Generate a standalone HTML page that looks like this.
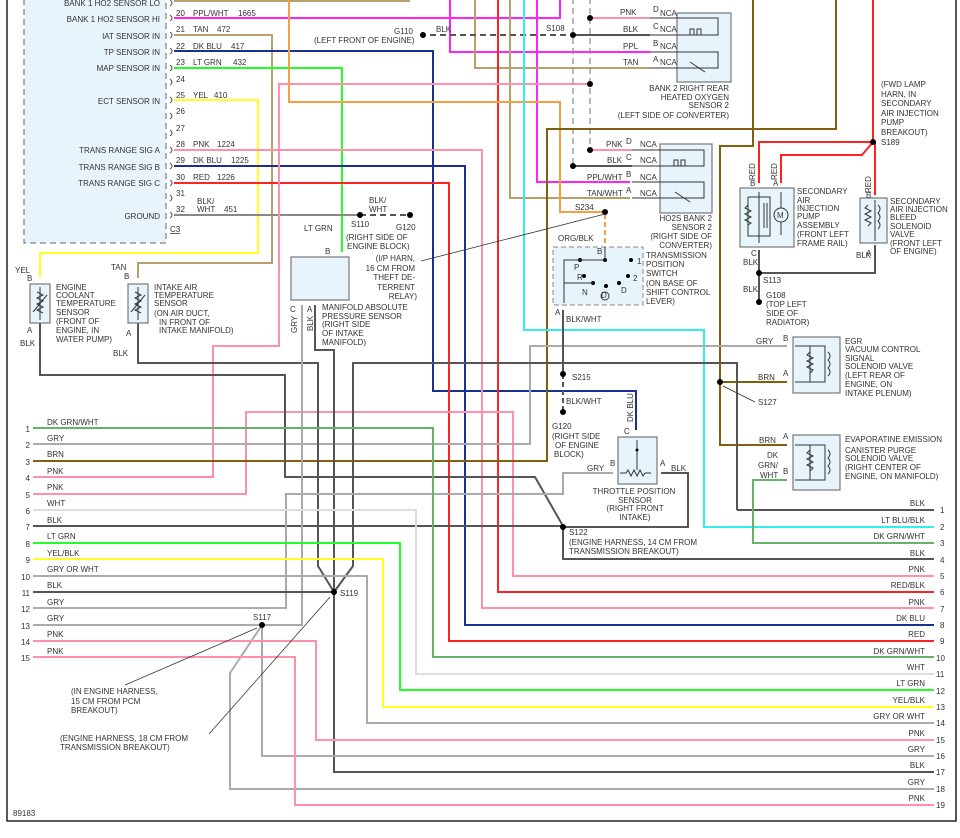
<!DOCTYPE html>
<html><head><meta charset="utf-8"><style>
html,body{margin:0;padding:0;background:#fff;}
svg{display:block;font-family:"Liberation Sans",sans-serif;}
text{font-size:8px;fill:#333;}
.w{fill:none;stroke-width:2;}
.b{fill:#e8f4fc;stroke:#777;stroke-width:1.2;}
</style></head><body>
<svg width="960" height="838" viewBox="0 0 960 838" xmlns="http://www.w3.org/2000/svg">
<rect x="0" y="0" width="960" height="838" fill="#fff"/>
<!-- border -->
<polyline points="7,0 7,821 956,821 956,0" fill="none" stroke="#222" stroke-width="1.5"/>
<!-- PCM box -->
<rect x="24" y="-5" width="142" height="248" fill="#e8f4fc" stroke="#666" stroke-dasharray="6,4" stroke-width="1"/>
<g text-anchor="end">
<text x="160" y="6">BANK 1 HO2 SENSOR LO</text>
<text x="160" y="22">BANK 1 HO2 SENSOR HI</text>
<text x="160" y="39">IAT SENSOR IN</text>
<text x="160" y="55">TP SENSOR IN</text>
<text x="160" y="71">MAP SENSOR IN</text>
<text x="160" y="104">ECT SENSOR IN</text>
<text x="160" y="153">TRANS RANGE SIG A</text>
<text x="160" y="170">TRANS RANGE SIG B</text>
<text x="160" y="186">TRANS RANGE SIG C</text>
<text x="160" y="219">GROUND</text>
</g>
<text x="170" y="232" text-decoration="underline">C3</text>
<g>
<text x="176" y="16">20</text><text x="193" y="16">PPL/WHT</text><text x="238" y="16">1665</text>
<text x="176" y="32">21</text><text x="193" y="32">TAN</text><text x="217" y="32">472</text>
<text x="176" y="49">22</text><text x="193" y="49">DK BLU</text><text x="231" y="49">417</text>
<text x="176" y="65">23</text><text x="193" y="65">LT GRN</text><text x="233" y="65">432</text>
<text x="176" y="82">24</text>
<text x="176" y="98">25</text><text x="193" y="98">YEL</text><text x="214" y="98">410</text>
<text x="176" y="114">26</text>
<text x="176" y="131">27</text>
<text x="176" y="147">28</text><text x="193" y="147">PNK</text><text x="217" y="147">1224</text>
<text x="176" y="163">29</text><text x="193" y="163">DK BLU</text><text x="231" y="163">1225</text>
<text x="176" y="180">30</text><text x="193" y="180">RED</text><text x="217" y="180">1226</text>
<text x="176" y="196">31</text>
<text x="176" y="212">32</text><text x="197" y="204">BLK/</text><text x="197" y="212">WHT</text><text x="224" y="212">451</text>
</g>
<g fill="none" stroke="#555" stroke-width="1">
<path d="M170,0 q4,3 0,6"/><path d="M170,15 q4,3 0,6"/><path d="M170,32 q4,3 0,6"/><path d="M170,48 q4,3 0,6"/><path d="M170,65 q4,3 0,6"/><path d="M170,79 q4,3 0,6"/><path d="M170,97 q4,3 0,6"/><path d="M170,113 q4,3 0,6"/><path d="M170,130 q4,3 0,6"/><path d="M170,147 q4,3 0,6"/><path d="M170,163 q4,3 0,6"/><path d="M170,180 q4,3 0,6"/><path d="M170,195 q4,3 0,6"/><path d="M170,212 q4,3 0,6"/>
</g>

<!-- WIRES -->
<polyline class="w" stroke="#b8a068" points="174,1 409,1 409,-2"/>
<polyline class="w" stroke="#ff22ff" points="174,18 560,18 560,-2"/>
<polyline class="w" stroke="#ff22ff" points="450,-2 450,52 650,52"/>
<polyline class="w" stroke="#ff22ff" points="537,-2 537,182 630,182"/>
<polyline class="w" stroke="#b8a068" points="475,-2 475,68 650,68"/>
<polyline class="w" stroke="#b8a068" points="510,-2 510,198 630,198"/>
<polyline class="w" stroke="#b8a068" points="174,35 272,35 272,263 138,263 138,278"/>
<polyline class="w" stroke="#1a2f8f" points="174,51 433,51 433,391 636,391 636,430"/>
<polyline class="w" stroke="#22ff22" points="174,68 342,68 342,252"/>
<polyline class="w" stroke="#ffff22" points="174,100 258,100 258,253 40,253 40,278"/>
<polyline class="w" stroke="#ff90a8" points="174,150 482,150 482,608 934,608"/>
<polyline class="w" stroke="#1a2f8f" points="174,166 465,166 465,625 934,625"/>
<polyline class="w" stroke="#ff2222" points="174,183 449,183 449,641 934,641"/>
<polyline class="w" stroke="#ff2222" points="498,-2 498,592 934,592"/>
<line x1="174" y1="215" x2="360" y2="215" stroke="#888" stroke-width="2"/>
<line x1="360" y1="215" x2="410" y2="215" stroke="#555" stroke-width="2" stroke-dasharray="6,4"/>
<polyline class="w" stroke="#f5a040" points="289,-2 289,102 560,102 560,212 605,212"/>
<line x1="605" y1="214" x2="605" y2="245" stroke="#f5a040" stroke-width="2" stroke-dasharray="5,3"/>
<polyline class="w" stroke="#ff90a8" points="590,84 279,84 279,346 213,346 213,477 33,477"/>
<polyline class="w" stroke="#ff90a8" points="33,494 246,494 246,412 513,412 513,576 934,576"/>
<!-- dashed verticals -->
<line x1="573" y1="-2" x2="573" y2="166" stroke="#888" stroke-width="1.2" stroke-dasharray="6,4"/>
<line x1="590" y1="-2" x2="590" y2="150" stroke="#888" stroke-width="1.2" stroke-dasharray="6,4"/>
<line x1="430" y1="35" x2="573" y2="35" stroke="#555" stroke-width="2" stroke-dasharray="6,4"/>
<line x1="590" y1="18" x2="650" y2="18" stroke="#ff90a8" stroke-width="2"/>
<line x1="573" y1="35" x2="650" y2="35" stroke="#555" stroke-width="2"/>
<line x1="590" y1="150" x2="632" y2="150" stroke="#ff90a8" stroke-width="2"/>
<line x1="573" y1="166" x2="632" y2="166" stroke="#555" stroke-width="2"/>
<!-- brown -->
<polyline class="w" stroke="#806010" points="836,-2 836,129 547,129 547,461 33,461"/>
<polyline class="w" stroke="#806010" points="753,-2 753,146 720,146 720,445 787,445"/>
<line x1="720" y1="382" x2="787" y2="382" stroke="#806010" stroke-width="2"/>
<!-- cyan -->
<polyline class="w" stroke="#33eeee" points="524,-2 524,330 704,330 704,527 934,527"/>
<!-- grays -->
<polyline class="w" stroke="#aaa" points="787,346 530,346 530,444 33,444"/>
<polyline class="w" stroke="#555" points="33,526 563,526 563,559 934,559"/>
<polyline class="w" stroke="#555" points="40,310 40,375 285,375 285,477 535,477 563,526"/>
<polyline class="w" stroke="#555" points="138,310 138,363 318,363 318,566 334,592"/>
<polyline class="w" stroke="#555" points="315,305 315,350 334,350 334,772 934,772"/>
<polyline class="w" stroke="#555" points="737,510 737,363 353,363 353,566 334,592"/>
<line x1="737" y1="510" x2="934" y2="510" stroke="#555" stroke-width="2"/>
<polyline class="w" stroke="#aaa" points="302,305 302,625 262,625"/>
<polyline class="w" stroke="#aaa" points="33,608 286,608 286,494 563,494 563,473 613,473"/>
<polyline class="w" stroke="#555" points="661,473 688,473 688,527 563,527"/>
<polyline class="w" stroke="#66b266" points="787,480 753,480 753,543 934,543"/>
<line x1="563" y1="310" x2="563" y2="374" stroke="#555" stroke-width="2"/>
<line x1="563" y1="374" x2="563" y2="410" stroke="#555" stroke-width="2" stroke-dasharray="5,3"/>
<!-- left rows to right -->
<polyline class="w" stroke="#66b266" points="33,428 433,428 433,657 934,657"/>
<polyline class="w" stroke="#ddd" points="33,510 416,510 416,674 934,674"/>
<polyline class="w" stroke="#22ff22" points="33,543 400,543 400,690 934,690"/>
<polyline class="w" stroke="#ffff22" points="33,559 383,559 383,707 934,707"/>
<polyline class="w" stroke="#aaa" points="33,576 367,576 367,723 934,723"/>
<polyline class="w" stroke="#555" points="33,592 334,592"/>
<polyline class="w" stroke="#aaa" points="33,625 262,625 262,756 934,756"/>
<polyline class="w" stroke="#aaa" points="262,625 230,673 230,789 934,789"/>
<polyline class="w" stroke="#ff90a8" points="33,641 316,641 316,740 934,740"/>
<polyline class="w" stroke="#ff90a8" points="33,657 295,657 295,805 934,805"/>
<!-- red right -->
<polyline class="w" stroke="#ff2222" points="873,-2 873,142 759,142 759,183"/>
<polyline class="w" stroke="#ff2222" points="781,183 781,155 862,155 873,142 875,142 875,195"/>
<polyline class="w" stroke="#555" points="759,250 759,273 875,273 875,245"/>
<line x1="759" y1="273" x2="759" y2="300" stroke="#555" stroke-width="2"/>

<!-- dots -->
<g fill="#000">
<circle cx="590" cy="18" r="3"/><circle cx="573" cy="35" r="3"/><circle cx="590" cy="84" r="3"/><circle cx="590" cy="150" r="3"/><circle cx="573" cy="166" r="3"/>
<circle cx="605" cy="212" r="3"/><circle cx="360" cy="215" r="3"/><circle cx="410" cy="215" r="3"/><circle cx="423" cy="35" r="3"/>
<circle cx="873" cy="142" r="3"/><circle cx="759" cy="273" r="3"/><circle cx="759" cy="302" r="3"/>
<circle cx="563" cy="374" r="3"/><circle cx="563" cy="412" r="3"/><circle cx="720" cy="382" r="3"/>
<circle cx="563" cy="527" r="3"/><circle cx="334" cy="592" r="3"/><circle cx="262" cy="625" r="3"/>
</g>

<!-- components -->
<rect class="b" x="677" y="13" width="54" height="69"/>
<rect class="b" x="660" y="144" width="52" height="69"/>
<g fill="none" stroke="#333" stroke-width="1">
<polyline points="650,18 718,18 718,35 650,35"/><polyline points="650,52 718,52 718,68 650,68"/>
<polyline points="632,150 704,150 704,166 632,166"/><polyline points="632,182 704,182 704,198 632,198"/>
<path d="M690,35 v-6 h4 v6 h3 v-6 h4 v6"/><path d="M674,166 v-6 h4 v6 h3 v-6 h4 v6"/>
<line x1="690" y1="62" x2="705" y2="72"/><line x1="675" y1="192" x2="690" y2="202"/>
</g>
<g>
<text x="620" y="15">PNK</text><text x="653" y="12" font-size="7">D</text><text x="660" y="16">NCA</text>
<text x="623" y="32">BLK</text><text x="653" y="29" font-size="7">C</text><text x="660" y="32">NCA</text>
<text x="623" y="49">PPL</text><text x="653" y="46" font-size="7">B</text><text x="660" y="49">NCA</text>
<text x="623" y="65">TAN</text><text x="653" y="62" font-size="7">A</text><text x="660" y="65">NCA</text>
<text x="606" y="147">PNK</text><text x="626" y="144" font-size="7">D</text><text x="640" y="147">NCA</text>
<text x="607" y="163">BLK</text><text x="626" y="160" font-size="7">C</text><text x="640" y="163">NCA</text>
<text x="587" y="180">PPL/WHT</text><text x="626" y="177" font-size="7">B</text><text x="640" y="180">NCA</text>
<text x="587" y="196">TAN/WHT</text><text x="626" y="193" font-size="7">A</text><text x="640" y="196">NCA</text>
</g>
<g text-anchor="end">
<text x="729" y="91">BANK 2 RIGHT REAR</text><text x="729" y="100">HEATED OXYGEN</text><text x="729" y="108">SENSOR 2</text><text x="729" y="118">(LEFT SIDE OF CONVERTER)</text>
<text x="712" y="221">HO2S BANK 2</text><text x="712" y="230">SENSOR 2</text><text x="712" y="239">(RIGHT SIDE OF</text><text x="712" y="248">CONVERTER)</text>
</g>
<text x="546" y="31">S108</text><text x="394" y="34">G110</text><text x="436" y="32">BLK</text>
<text x="314" y="43">(LEFT FRONT OF ENGINE)</text>
<text x="575" y="210">S234</text>
<text x="558" y="241">ORG/BLK</text>

<!-- TPS switch -->
<rect x="553" y="247" width="90" height="58" fill="#e8f4fc" stroke="#888" stroke-dasharray="5,3"/>
<g fill="#000"><circle cx="605" cy="260" r="2"/><circle cx="580" cy="260" r="2"/><circle cx="584" cy="276" r="2"/><circle cx="593" cy="283" r="2"/><circle cx="606" cy="286" r="2"/><circle cx="619" cy="283" r="2"/><circle cx="628" cy="276" r="2"/><circle cx="631" cy="260" r="2"/></g>
<polyline points="605,247 605,260 564,260 564,303" fill="none" stroke="#333" stroke-width="1"/>
<line x1="564" y1="283" x2="593" y2="283" stroke="#333"/>
<circle cx="605" cy="296" r="4" fill="none" stroke="#333"/>
<text x="601" y="298" font-size="6">D</text>
<text x="574" y="270">P</text><text x="577" y="280">R</text><text x="582" y="295">N</text><text x="621" y="293">D</text><text x="633" y="281">2</text><text x="637" y="264">1</text>
<text x="597" y="254">B</text><text x="555" y="315">A</text>
<text x="566" y="322">BLK/WHT</text>
<g><text x="646" y="258">TRANSMISSION</text><text x="646" y="267">POSITION</text><text x="646" y="276">SWITCH</text><text x="646" y="286">(ON BASE OF</text><text x="646" y="295">SHIFT CONTROL</text><text x="646" y="304">LEVER)</text></g>

<!-- secondary air -->
<rect class="b" x="740" y="188" width="54" height="59"/>
<g fill="none" stroke="#333"><polyline points="759,192 759,243"/><polyline points="748,197 770,197 770,236 748,236 748,197"/><circle cx="781" cy="215" r="7"/><line x1="781" y1="192" x2="781" y2="208"/><line x1="781" y1="222" x2="781" y2="235"/><path d="M748,205 l-3,3 l6,3 l-6,3 l6,3 l-6,3 l6,3 l-3,2"/><line x1="764" y1="203" x2="764" y2="228"/><line x1="767" y1="203" x2="767" y2="228"/></g>
<text x="777" y="218" font-size="7">M</text>
<text x="750" y="186">B</text><text x="773" y="186">A</text><text x="751" y="256">C</text><text x="743" y="265">BLK</text><text x="743" y="292">BLK</text>
<text x="763" y="283">S113</text><text x="766" y="298">G108</text><text x="766" y="307">(TOP LEFT</text><text x="766" y="316">SIDE OF</text><text x="766" y="325">RADIATOR)</text>
<text transform="translate(755,180) rotate(-90)">RED</text><text transform="translate(777,180) rotate(-90)">RED</text><text transform="translate(871,193) rotate(-90)">RED</text>
<g><text x="797" y="194">SECONDARY</text><text x="797" y="203">AIR</text><text x="797" y="211">INJECTION</text><text x="797" y="219">PUMP</text><text x="797" y="228">ASSEMBLY</text><text x="797" y="237">(FRONT LEFT</text><text x="797" y="246">FRAME RAIL)</text></g>
<rect class="b" x="860" y="198" width="27" height="45"/>
<g fill="none" stroke="#333"><line x1="875" y1="200" x2="875" y2="241"/><path d="M868,205 l-3,3 l6,3 l-6,3 l6,3 l-6,3 l6,3 l-3,3"/><path d="M878,205 q4,4 0,8 q4,4 0,8 q4,4 0,8"/></g>
<text x="866" y="198">B</text><text x="866" y="256">A</text><text x="856" y="258">BLK</text>
<g><text x="890" y="204">SECONDARY</text><text x="890" y="212">AIR INJECTION</text><text x="890" y="220">BLEED</text><text x="890" y="229">SOLENOID</text><text x="890" y="237">VALVE</text><text x="890" y="246">(FRONT LEFT</text><text x="890" y="254">OF ENGINE)</text></g>
<g><text x="881" y="87">(FWD LAMP</text><text x="881" y="97">HARN, IN</text><text x="881" y="106">SECONDARY</text><text x="881" y="116">AIR INJECTION</text><text x="881" y="125">PUMP</text><text x="881" y="135">BREAKOUT)</text><text x="881" y="145">S189</text></g>

<!-- EGR & EVAP -->
<rect class="b" x="793" y="337" width="47" height="56"/>
<rect class="b" x="793" y="435" width="47" height="55"/>
<g fill="none" stroke="#333"><polyline points="795,346 810,346 810,382 795,382"/><polyline points="810,346 825,346 825,382 810,382"/><path d="M810,352 l-3,3 l6,3 l-6,3 l6,3 l-6,3 l6,3 l-3,3"/><path d="M828,352 q4,4 0,8 q4,4 0,8 q4,4 0,8"/>
<polyline points="795,445 810,445 810,480 795,480"/><polyline points="810,445 825,445 825,480 810,480"/><path d="M810,450 l-3,3 l6,3 l-6,3 l6,3 l-6,3 l6,3 l-3,3"/><path d="M828,450 q4,4 0,8 q4,4 0,8 q4,4 0,8"/></g>
<text x="756" y="344">GRY</text><text x="783" y="341" font-size="7">B</text>
<text x="758" y="380">BRN</text><text x="783" y="376" font-size="7">A</text>
<text x="759" y="443">BRN</text><text x="783" y="439" font-size="7">A</text>
<text x="767" y="458">DK</text><text x="758" y="468">GRN/</text><text x="760" y="478">WHT</text><text x="783" y="474" font-size="7">B</text>
<text x="758" y="405">S127</text><line x1="723" y1="386" x2="755" y2="402" stroke="#333" stroke-width="0.8"/>
<g><text x="845" y="344">EGR</text><text x="845" y="352">VACUUM CONTROL</text><text x="845" y="361">SIGNAL</text><text x="845" y="369">SOLENOID VALVE</text><text x="845" y="378">(LEFT REAR OF</text><text x="845" y="387">ENGINE, ON</text><text x="845" y="396">INTAKE PLENUM)</text></g>
<g><text x="845" y="442">EVAPORATINE EMISSION</text><text x="845" y="453">CANISTER PURGE</text><text x="845" y="461">SOLENOID VALVE</text><text x="845" y="470">(RIGHT CENTER OF</text><text x="845" y="479">ENGINE, ON MANIFOLD)</text></g>

<!-- TPS -->
<rect class="b" x="618" y="437" width="39" height="47"/>
<g fill="none" stroke="#333"><line x1="637" y1="440" x2="637" y2="470"/><path d="M620,473 h6 l2,-3 l3,6 l3,-6 l3,6 l3,-6 l3,6 l2,-3 h6"/></g>
<circle cx="637" cy="450" r="1.5" fill="#000"/>
<text x="624" y="434">C</text><text x="610" y="466">B</text><text x="660" y="466">A</text>
<text x="587" y="471">GRY</text><text x="671" y="471">BLK</text>
<text transform="translate(633,422) rotate(-90)">DK BLU</text>
<g text-anchor="middle"><text x="634" y="494">THROTTLE POSITION</text><text x="635" y="503">SENSOR</text><text x="635" y="511">(RIGHT FRONT</text><text x="635" y="520">INTAKE)</text></g>
<text x="572" y="380">S215</text><text x="566" y="404">BLK/WHT</text>
<text x="552" y="429">G120</text><text x="552" y="439">(RIGHT SIDE</text><text x="555" y="448">OF ENGINE</text><text x="554" y="457">BLOCK)</text>
<text x="569" y="535">S122</text><text x="569" y="545">(ENGINE HARNESS, 14 CM FROM</text><text x="569" y="554">TRANSMISSION BREAKOUT)</text>

<!-- MAP -->
<rect class="b" x="291" y="257" width="58" height="43"/>
<text x="325" y="254">B</text><text x="290" y="312">C</text><text x="307" y="312">A</text>
<text x="304" y="231">LT GRN</text>
<text transform="translate(297,333) rotate(-90)">GRY</text><text transform="translate(313,331) rotate(-90)">BLK</text>
<g><text x="322" y="310">MANIFOLD ABSOLUTE</text><text x="322" y="319">PRESSURE SENSOR</text><text x="322" y="327">(RIGHT SIDE</text><text x="322" y="336">OF INTAKE</text><text x="322" y="345">MANIFOLD)</text></g>
<text x="369" y="203">BLK/</text><text x="369" y="212">WHT</text><text x="351" y="227">S110</text><text x="396" y="230">G120</text>
<text x="346" y="240">(RIGHT SIDE OF</text><text x="347" y="249">ENGINE BLOCK)</text>
<g text-anchor="end"><text x="415" y="261">(I/P HARN,</text><text x="415" y="271">16 CM FROM</text><text x="415" y="280">THEFT DE-</text><text x="415" y="290">TERRENT</text><text x="417" y="299">RELAY)</text></g>
<line x1="421" y1="261" x2="605" y2="214" stroke="#333" stroke-width="0.8"/>

<!-- ECT / IAT -->
<rect class="b" x="30" y="284" width="20" height="39"/>
<rect class="b" x="128" y="284" width="20" height="39"/>
<g fill="none" stroke="#333"><line x1="40" y1="287" x2="40" y2="320"/><path d="M37,292 l6,3 l-6,3 l6,3 l-6,3 l6,3 l-6,3 l6,3"/><line x1="33" y1="312" x2="47" y2="295"/>
<line x1="138" y1="287" x2="138" y2="320"/><path d="M135,292 l6,3 l-6,3 l6,3 l-6,3 l6,3 l-6,3 l6,3"/><line x1="131" y1="312" x2="145" y2="295"/></g>
<text x="15" y="273">YEL</text><text x="27" y="281">B</text><text x="27" y="333">A</text><text x="20" y="346">BLK</text>
<text x="111" y="270">TAN</text><text x="124" y="279">B</text><text x="126" y="336">A</text><text x="113" y="356">BLK</text>
<g><text x="56" y="290">ENGINE</text><text x="56" y="298">COOLANT</text><text x="56" y="306">TEMPERATURE</text><text x="56" y="315">SENSOR</text><text x="56" y="324">(FRONT OF</text><text x="56" y="333">ENGINE, IN</text><text x="56" y="342">WATER PUMP)</text></g>
<g><text x="154" y="290">INTAKE AIR</text><text x="154" y="298">TEMPERATURE</text><text x="154" y="306">SENSOR</text><text x="154" y="316">(ON AIR DUCT,</text><text x="159" y="325">IN FRONT OF</text><text x="159" y="333">INTAKE MANIFOLD)</text></g>

<!-- left rows labels -->
<g text-anchor="end">
<text x="30" y="432">1</text><text x="30" y="448">2</text><text x="30" y="465">3</text><text x="30" y="481">4</text><text x="30" y="498">5</text><text x="30" y="514">6</text><text x="30" y="530">7</text><text x="30" y="547">8</text><text x="30" y="563">9</text><text x="30" y="580">10</text><text x="30" y="596">11</text><text x="30" y="612">12</text><text x="30" y="629">13</text><text x="30" y="645">14</text><text x="30" y="661">15</text>
</g>
<g>
<text x="47" y="425">DK GRN/WHT</text><text x="47" y="441">GRY</text><text x="47" y="457">BRN</text><text x="47" y="474">PNK</text><text x="47" y="490">PNK</text><text x="47" y="506">WHT</text><text x="47" y="523">BLK</text><text x="47" y="539">LT GRN</text><text x="47" y="556">YEL/BLK</text><text x="47" y="572">GRY OR WHT</text><text x="47" y="588">BLK</text><text x="47" y="605">GRY</text><text x="47" y="621">GRY</text><text x="47" y="637">PNK</text><text x="47" y="654">PNK</text>
</g>
<text x="340" y="596">S119</text><text x="253" y="620">S117</text>
<line x1="125" y1="685" x2="257" y2="628" stroke="#333" stroke-width="0.8"/>
<line x1="209" y1="734" x2="330" y2="597" stroke="#333" stroke-width="0.8"/>
<g><text x="71" y="694">(IN ENGINE HARNESS,</text><text x="71" y="704">15 CM FROM PCM</text><text x="71" y="713">BREAKOUT)</text><text x="60" y="741">(ENGINE HARNESS, 18 CM FROM</text><text x="60" y="750">TRANSMISSION BREAKOUT)</text></g>
<text x="13" y="816">89183</text>

<!-- right rows labels -->
<g text-anchor="end">
<text x="925" y="506">BLK</text><text x="925" y="523">LT BLU/BLK</text><text x="925" y="539">DK GRN/WHT</text><text x="925" y="556">BLK</text><text x="925" y="572">PNK</text><text x="925" y="588">RED/BLK</text><text x="925" y="605">PNK</text><text x="925" y="621">DK BLU</text><text x="925" y="637">RED</text><text x="925" y="654">DK GRN/WHT</text><text x="925" y="670">WHT</text><text x="925" y="686">LT GRN</text><text x="925" y="703">YEL/BLK</text><text x="925" y="719">GRY OR WHT</text><text x="925" y="736">PNK</text><text x="925" y="752">GRY</text><text x="925" y="768">BLK</text><text x="925" y="785">GRY</text><text x="925" y="801">PNK</text>
</g>
<g>
<text x="940" y="513">1</text><text x="940" y="530">2</text><text x="940" y="546">3</text><text x="940" y="563">4</text><text x="940" y="579">5</text><text x="940" y="595">6</text><text x="940" y="612">7</text><text x="940" y="628">8</text><text x="940" y="644">9</text><text x="936" y="661">10</text><text x="936" y="677">11</text><text x="936" y="694">12</text><text x="936" y="710">13</text><text x="936" y="726">14</text><text x="936" y="743">15</text><text x="936" y="759">16</text><text x="936" y="775">17</text><text x="936" y="792">18</text><text x="936" y="808">19</text>
</g>
</svg>
</body></html>
